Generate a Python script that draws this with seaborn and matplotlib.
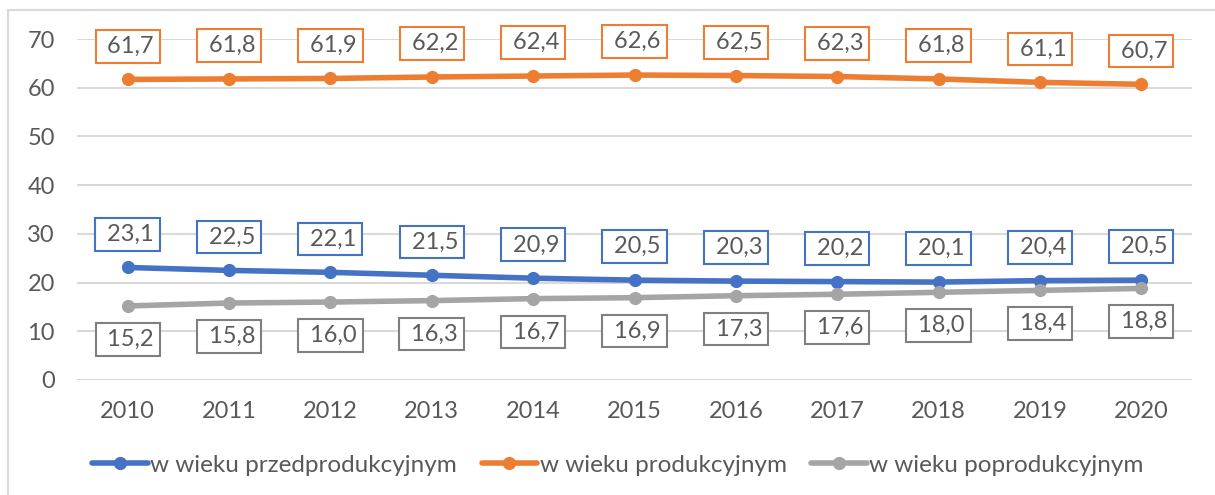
import matplotlib
matplotlib.use("Agg")
import matplotlib.pyplot as plt
import seaborn as sns
import pandas as pd
from matplotlib.lines import Line2D

years = ["2010", "2011", "2012", "2013", "2014", "2015", "2016", "2017", "2018", "2019", "2020"]
przed = [23.1, 22.5, 22.1, 21.5, 20.9, 20.5, 20.3, 20.2, 20.1, 20.4, 20.5]
prod = [61.7, 61.8, 61.9, 62.2, 62.4, 62.6, 62.5, 62.3, 61.8, 61.1, 60.7]
popr = [15.2, 15.8, 16.0, 16.3, 16.7, 16.9, 17.3, 17.6, 18.0, 18.4, 18.8]
series_names = ["w wieku przedprodukcyjnym", "w wieku produkcyjnym", "w wieku poprodukcyjnym"]
colors = ["#4472C4", "#ED7D31", "#A5A5A5"]
box_colors = ["#4472C4", "#ED7D31", "#7F7F7F"]

sns.set_style("white")
plt.rcParams["font.family"] = ["Lato", "DejaVu Sans"]
txt = "#595959"

rows = []
for name, vals in zip(series_names, [przed, prod, popr]):
    for i, v in enumerate(vals):
        rows.append({"x": i, "rok": years[i], "seria": name, "val": v})
df = pd.DataFrame(rows)

fig = plt.figure(figsize=(12.15, 4.95), dpi=100)
ax = fig.add_axes([77 / 1215, 115 / 495, 1115 / 1215, 341 / 495])

sns.lineplot(data=df, x="x", y="val", hue="seria", hue_order=series_names,
             palette=colors, marker="o", markersize=9.5, markeredgewidth=0,
             linewidth=4, legend=False, ax=ax)

# data labels in boxes
offsets = [24, 24, -24]
for name, vals, bc, off in zip(series_names, [przed, prod, popr], box_colors, offsets):
    for i, v in enumerate(vals):
        lab = " " + f"{v:.1f}".replace(".", ",")
        ax.annotate(lab, (i, v), xytext=(0, off), textcoords="offset points",
                    ha="center", va="center", fontsize=17, color=txt,
                    bbox=dict(boxstyle="square,pad=0.25", fc="white", ec=bc, lw=1.5))

ax.set_xlim(-0.5, 10.5)
ax.set_ylim(0, 70)
ax.set_xticks(range(len(years)))
ax.set_xticklabels(years)
ax.set_yticks(range(0, 71, 10))
ax.tick_params(axis="both", length=0, labelsize=17, labelcolor=txt)
ax.tick_params(axis="x", pad=15)
ax.tick_params(axis="y", pad=16)
ax.set_xlabel("")
ax.set_ylabel("")
ax.grid(axis="y", color="#D9D9D9", lw=1.5)
ax.set_axisbelow(True)
sns.despine(ax=ax, left=True, bottom=True)

handles = [Line2D([], [], color=c, lw=4, marker="o", markersize=9.5, markeredgewidth=0)
           for c in colors]
fig.legend(handles, series_names, loc="center", bbox_to_anchor=(618 / 1215, 1 - 465 / 495),
           ncol=3, frameon=False, fontsize=17.5, labelcolor=txt,
           handlelength=2.3, handletextpad=0.1, columnspacing=1.0)

# chart area border (left and top edges visible)
fig.add_artist(Line2D([8 / 1215, 8 / 1215], [0, 1 - 10 / 495], transform=fig.transFigure,
                      color="#D9D9D9", lw=1.5))
fig.add_artist(Line2D([8 / 1215, 1], [1 - 10 / 495, 1 - 10 / 495], transform=fig.transFigure,
                      color="#D9D9D9", lw=1.5))

fig.savefig("out.png", dpi=100)
plt.close(fig)
